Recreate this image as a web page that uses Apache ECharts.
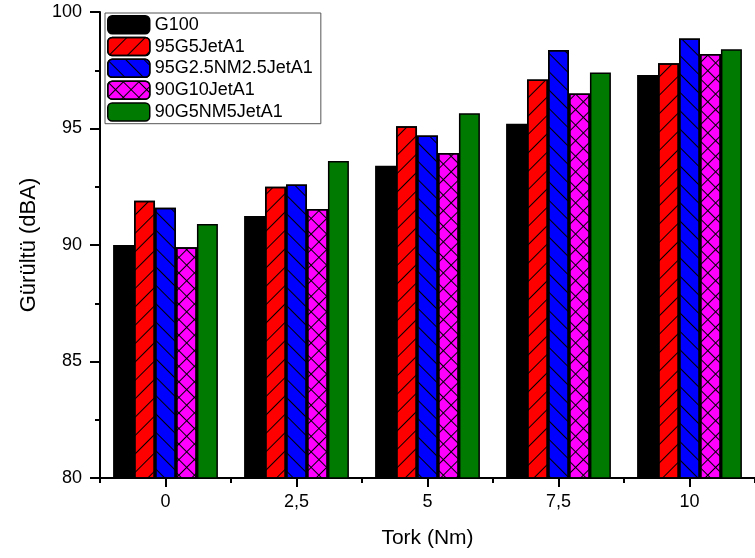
<!DOCTYPE html>
<html>
<head>
<meta charset="utf-8">
<script src="https://cdn.jsdelivr.net/npm/echarts@6/dist/echarts.min.js"></script>
<style>html,body{margin:0;padding:0;background:#fff}#c{width:755px;height:558px}</style>
</head>
<body>
<div id="c"></div>
<script>
const categories = ['0', '2,5', '5', '7,5', '10'];
const seriesNames = ['G100', '95G5JetA1', '95G2.5NM2.5JetA1', '90G10JetA1', '90G5NM5JetA1'];
const g100 = [90.0, 91.25, 93.4, 95.2, 97.3];
const g95jet = [91.9, 92.5, 95.1, 97.1, 97.8];
const g95nm = [91.6, 92.6, 94.7, 98.37, 98.86];
const g90jet = [89.9, 91.55, 93.95, 96.5, 98.2];
const g90nm = [90.9, 93.6, 95.65, 97.4, 98.4];
const yTicks = [80, 85, 90, 95, 100];

const FONT = 'Liberation Sans, Arial, sans-serif';
const colors = ['#000000', '#ff0000', '#0000ff', '#ff00ff', '#007a00'];
const decals = [
  null,
  {symbol: 'rect', color: '#000', dashArrayX: [1, 0], dashArrayY: [1, 12], rotation: -Math.PI / 4, symbolKeepAspect: false},
  {symbol: 'rect', color: '#000', dashArrayX: [1, 0], dashArrayY: [1, 12], rotation: Math.PI / 4, symbolKeepAspect: false},
  {symbol: 'rect', color: '#000', dashArrayX: [[1, 0], [1, 10]], dashArrayY: [1, 0, 10, 0], rotation: Math.PI / 4, symbolKeepAspect: false},
  null
];
const data = [g100, g95jet, g95nm, g90jet, g90nm];

const chart = echarts.init(document.getElementById('c'), null, {renderer: 'canvas'});
chart.setOption({
  animation: false,
  backgroundColor: '#fff',
  textStyle: {fontFamily: FONT},
  grid: {left: 100, top: 12, width: 666, bottom: 80, containLabel: false},
  legend: {
    orient: 'vertical', left: 105, top: 13,
    padding: [2, 8, 2, 2], itemGap: 2.3, itemWidth: 42, itemHeight: 18,
    borderColor: '#555', borderWidth: 1, backgroundColor: '#fff',
    textStyle: {fontSize: 18, lineHeight: 18, color: '#000', fontFamily: FONT},
    itemStyle: {borderColor: '#000', borderWidth: 1.5},
    data: seriesNames
  },
  xAxis: [
    {
      type: 'category', data: categories, position: 'bottom',
      axisLine: {lineStyle: {color: '#000', width: 2}},
      axisTick: {show: true, alignWithLabel: false, inside: false, length: 5, lineStyle: {color: '#000', width: 2}},
      axisLabel: {show: false}
    },
    {
      type: 'category', data: categories, position: 'bottom',
      name: 'Tork (Nm)', nameLocation: 'middle', nameGap: 50,
      nameTextStyle: {fontSize: 21, color: '#000', fontFamily: FONT},
      axisLine: {show: false},
      axisTick: {show: true, alignWithLabel: true, length: 9, lineStyle: {color: '#000', width: 2}},
      axisLabel: {fontSize: 18, color: '#000', margin: 15, fontFamily: FONT}
    }
  ],
  yAxis: {
    type: 'value', min: 80, max: 100, interval: 5,
    name: 'Gürültü (dBA)', nameLocation: 'middle', nameGap: 60,
    nameTextStyle: {fontSize: 22, color: '#000', fontFamily: FONT},
    axisLine: {show: true, lineStyle: {color: '#000', width: 2}},
    axisTick: {show: true, inside: false, length: 10, lineStyle: {color: '#000', width: 2}},
    minorTick: {show: true, splitNumber: 2, length: 5, lineStyle: {color: '#000', width: 2}},
    splitLine: {show: false},
    axisLabel: {fontSize: 18, color: '#000', margin: 18, fontFamily: FONT,
      formatter: v => yTicks.indexOf(v) >= 0 ? String(v) : ''}
  },
  series: data.map((d, i) => ({
    name: seriesNames[i], type: 'bar', xAxisIndex: 0, data: d,
    barGap: '0%', barCategoryGap: '20%',
    itemStyle: Object.assign({color: colors[i], borderColor: '#000', borderWidth: 1.5},
      decals[i] ? {decal: decals[i]} : {})
  }))
});
</script>
</body>
</html>
